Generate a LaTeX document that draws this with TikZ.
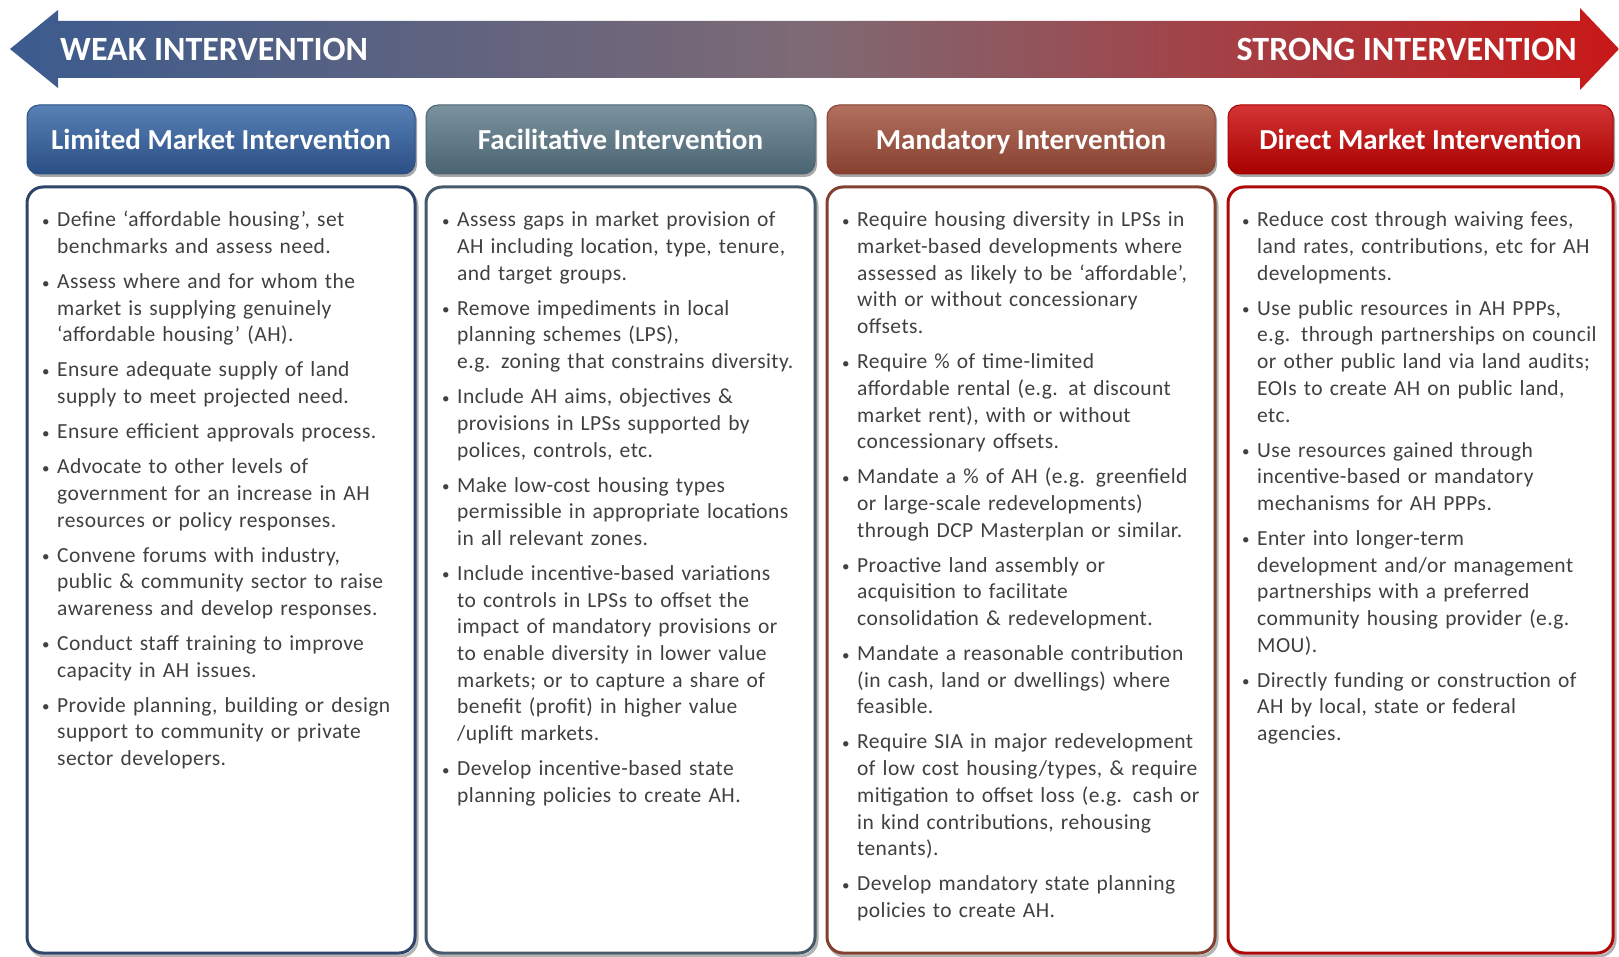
\documentclass[tikz,border=0pt]{standalone}
\usepackage{fontspec}
\setmainfont{Carlito}
\newfontfamily\bodyfont[LetterSpace=2,WordSpace=1.5]{Carlito}
\usetikzlibrary{calc}
\definecolor{txt}{HTML}{404040}
\definecolor{arL}{HTML}{3B5B8E}
\definecolor{arM}{HTML}{7E6A74}
\definecolor{arR}{HTML}{C81818}
\definecolor{hA}{HTML}{3A6AA8}\definecolor{hAd}{HTML}{2A4F85}\definecolor{bA}{HTML}{2F4468}
\definecolor{hB}{HTML}{627F8D}\definecolor{hBd}{HTML}{4B6471}\definecolor{bB}{HTML}{46596A}
\definecolor{hC}{HTML}{A45642}\definecolor{hCd}{HTML}{874030}\definecolor{bC}{HTML}{84402E}
\definecolor{hD}{HTML}{CC1010}\definecolor{hDd}{HTML}{A80000}\definecolor{bD}{HTML}{B00808}
\newcommand\NL{\newline}
\newcommand\bitem[1]{\par\noindent\hangindent=15pt\hangafter=1\makebox[15pt][l]{\raisebox{0.5pt}{\scalebox{0.7}{\textbullet}}}#1\par\vspace{8.3pt}}
\tikzset{
  hdr/.style={rounded corners=12pt, line width=1pt},
  hdrtext/.style={text=white, font=\fontsize{29}{34}\selectfont\bfseries, anchor=base, inner sep=0pt},
  cbox/.style={rounded corners=16pt, line width=3pt, fill=white},
  ctext/.style={anchor=north west, inner sep=0pt, text width=380pt, text=txt,
    font=\bodyfont\fontsize{21.5}{26.7}\selectfont},
  artext/.style={text=white, font=\fontsize{34}{40}\selectfont\bfseries, inner sep=0pt}
}
\begin{document}
\begin{tikzpicture}[x=1pt,y=-1pt]
\useasboundingbox (0,0) rectangle (1619,957);
\fill[white] (0,0) rectangle (1619,957);
% big arrow
\shade[left color=arL, right color=arR, middle color=arM]
  (10,49) -- (58,10) -- (58,21) -- (1580,21) -- (1580,8) -- (1619,49) -- (1580,90) -- (1580,78) -- (58,78) -- (58,88) -- cycle;
\node[artext, anchor=base west] (weak) at (60,61) {WEAK INTERVENTION};
\node[artext, anchor=base east] (strong) at (1577,61) {STRONG INTERVENTION};
% columns
\foreach \i/\xa/\xb/\hc/\hd/\bc/\ttl in {
  1/27/415/hA/hAd/bA/Limited Market Intervention,
  2/426/815/hB/hBd/bB/Facilitative Intervention,
  3/827/1215/hC/hCd/bC/Mandatory Intervention,
  4/1228/1613/hD/hDd/bD/Direct Market Intervention}{
  \fill[black!35, rounded corners=12pt] (\xa+2,108) rectangle (\xb+2,177);
  \shade[hdr, top color=\hc!85!white, bottom color=\hd, draw=\hd] (\xa,105) rectangle (\xb,174);
  \node[hdrtext] (h\i) at ({(\xa+\xb)/2},150) {\ttl};
  \draw[black!30, rounded corners=16pt, line width=3pt] (\xa+2,190) rectangle (\xb+2,956);
  \draw[cbox, draw=\bc] (\xa,187) rectangle (\xb,953);
}
\node[ctext] (t1) at (42,200) {\raggedright
\bitem{Define ‘affordable housing’, set\NL benchmarks and assess need.}
\bitem{Assess where and for whom the\NL market is supplying genuinely\NL ‘affordable housing’ (AH).}
\bitem{Ensure adequate supply of land\NL supply to meet projected need.}
\bitem{Ensure efficient approvals process.}
\bitem{Advocate to other levels of\NL government for an increase in AH\NL resources or policy responses.}
\bitem{Convene forums with industry,\NL public \& community sector to raise\NL awareness and develop responses.}
\bitem{Conduct staff training to improve\NL capacity in AH issues.}
\bitem{Provide planning, building or design\NL support to community or private\NL sector developers.}};
\node[ctext] (t2) at (442,200) {\raggedright
\bitem{Assess gaps in market provision of\NL AH including location, type, tenure,\NL and target groups.}
\bitem{Remove impediments in local\NL planning schemes (LPS),\NL e.g. zoning that constrains diversity.}
\bitem{Include AH aims, objectives \&\NL provisions in LPSs supported by\NL polices, controls, etc.}
\bitem{Make low-cost housing types\NL permissible in appropriate locations\NL in all relevant zones.}
\bitem{Include incentive-based variations\NL to controls in LPSs to offset the\NL impact of mandatory provisions or\NL to enable diversity in lower value\NL markets; or to capture a share of\NL benefit (profit) in higher value\NL /uplift markets.}
\bitem{Develop incentive-based state\NL planning policies to create AH.}};
\node[ctext] (t3) at (842,200) {\raggedright
\bitem{Require housing diversity in LPSs in\NL market-based developments where\NL assessed as likely to be ‘affordable’,\NL with or without concessionary\NL offsets.}
\bitem{Require \% of time-limited\NL affordable rental (e.g. at discount\NL market rent), with or without\NL concessionary offsets.}
\bitem{Mandate a \% of AH (e.g. greenfield\NL or large-scale redevelopments)\NL through DCP Masterplan or similar.}
\bitem{Proactive land assembly or\NL acquisition to facilitate\NL consolidation \& redevelopment.}
\bitem{Mandate a reasonable contribution\NL (in cash, land or dwellings) where\NL feasible.}
\bitem{Require SIA in major redevelopment\NL of low cost housing/types, \& require\NL mitigation to offset loss (e.g. cash or\NL in kind contributions, rehousing\NL tenants).}
\bitem{Develop mandatory state planning\NL policies to create AH.}};
\node[ctext] (t4) at (1242,200) {\raggedright
\bitem{Reduce cost through waiving fees,\NL land rates, contributions, etc for AH\NL developments.}
\bitem{Use public resources in AH PPPs,\NL e.g. through partnerships on council\NL or other public land via land audits;\NL EOIs to create AH on public land,\NL etc.}
\bitem{Use resources gained through\NL incentive-based or mandatory\NL mechanisms for AH PPPs.}
\bitem{Enter into longer-term\NL development and/or management\NL partnerships with a preferred\NL community housing provider (e.g.\NL MOU).}
\bitem{Directly funding or construction of\NL AH by local, state or federal\NL agencies.}};
\end{tikzpicture}
\end{document}
